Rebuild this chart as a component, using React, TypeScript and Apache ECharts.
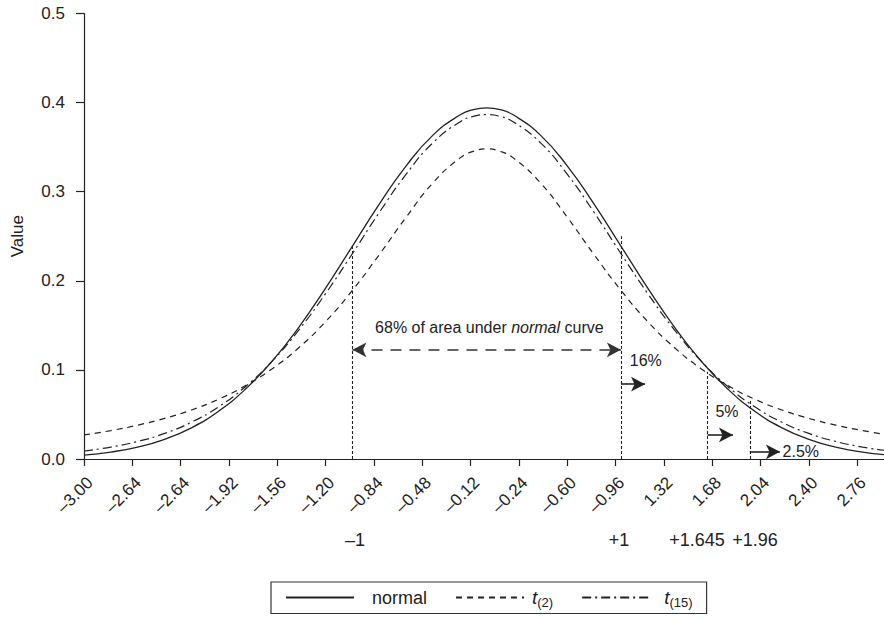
import { useEffect, useRef } from "react";
import * as echarts from "echarts";

// Sample points along z (step 0.2, extra points around the peak, last point at the axis edge)
const xValues = [
  -3.0, -2.8, -2.6, -2.4, -2.2, -2.0, -1.8, -1.6, -1.4, -1.2, -1.0, -0.8, -0.6, -0.4, -0.2, -0.1,
  0.0, 0.1, 0.2, 0.4, 0.6, 0.8, 1.0, 1.2, 1.4, 1.6, 1.8, 2.0, 2.2, 2.4, 2.6, 2.8, 2.96,
];

const normalDensity = [
  0.0043, 0.0078, 0.0134, 0.0221, 0.035, 0.0533, 0.078, 0.1095, 0.1478, 0.1917, 0.239, 0.286, 0.329, 0.3635, 0.386, 0.3921,
  0.394, 0.3921, 0.386, 0.3635, 0.329, 0.286, 0.239, 0.1917, 0.1478, 0.1095, 0.078, 0.0533, 0.035, 0.0221, 0.0134, 0.0078, 0.0049,
];

const t2Density = [
  0.027, 0.0319, 0.038, 0.0456, 0.055, 0.0669, 0.0821, 0.1011, 0.1249, 0.1542, 0.1894, 0.2294, 0.2714, 0.31, 0.3377, 0.3453,
  0.348, 0.3453, 0.3377, 0.31, 0.2714, 0.2294, 0.1894, 0.1542, 0.1249, 0.1011, 0.0821, 0.0669, 0.055, 0.0456, 0.038, 0.0319, 0.0278,
];

const t15Density = [
  0.009, 0.0134, 0.0197, 0.0287, 0.0413, 0.0583, 0.0809, 0.1095, 0.1447, 0.1857, 0.2306, 0.2767, 0.3196, 0.355, 0.3783, 0.3845,
  0.3865, 0.3845, 0.3783, 0.355, 0.3196, 0.2767, 0.2306, 0.1857, 0.1447, 0.1095, 0.0809, 0.0583, 0.0413, 0.0287, 0.0197, 0.0134, 0.0098,
];

// x-axis ticks and the labels printed under them
const tickValues = [
  -3.0, -2.64, -2.28, -1.92, -1.56, -1.2, -0.84, -0.48, -0.12, 0.24, 0.6, 0.96, 1.32, 1.68, 2.04, 2.4, 2.76,
];
const tickLabels = [
  "–3.00", "–2.64", "–2.64", "–1.92", "–1.56", "–1.20", "–0.84", "–0.48", "–0.12",
  "–0.24", "–0.60", "–0.96", "1.32", "1.68", "2.04", "2.40", "2.76",
];

// critical values and how high each guide line reaches
const cutoffs = [-1, 1, 1.645, 1.96];
const cutoffLabels = ["–1", "+1", "+1.645", "+1.96"];
const cutoffHeights = [0.2385, 0.25, 0.098, 0.066];

// tail annotations: arrow end x, arrow y, label x, label y
const tailLabels = ["16%", "5%", "2.5%"];
const tailArrowEnd = [1.18, 1.835, 2.185];
const tailArrowY = [0.084, 0.027, 0.008];
const tailLabelX = [1.185, 1.79, 2.34];
const tailLabelY = [0.11, 0.053, 0.008];

const bandArrowY = 0.1225;
const bandLabelPos = [0.02, 0.1475];

const seriesNames = ["normal", "t(2)", "t(15)"];

const FONT = "'Liberation Sans', Arial, Helvetica, sans-serif";
const INK = "#222";

export default function App() {
  const ref = useRef<HTMLDivElement>(null);

  useEffect(() => {
    if (!ref.current) return;
    const chart = echarts.init(ref.current, undefined, { renderer: "svg" });

    const pairs = (ys: number[]) => xValues.map((x, i) => [x, ys[i]]);

    const guideLines = cutoffs.map((c, i) => [
      { coord: [c, 0], symbol: "none" },
      { coord: [c, cutoffHeights[i]], symbol: "none" },
    ]);

    const tailArrows = tailLabels.map((_, i) => [
      {
        coord: [cutoffs[i + 1], tailArrowY[i]],
        symbol: "none",
        lineStyle: { type: "solid", width: 1.6, color: INK },
      },
      { coord: [tailArrowEnd[i], tailArrowY[i]], symbol: "arrow", symbolSize: [11, 14] },
    ]);

    const bandArrow = [
      {
        coord: [cutoffs[0], bandArrowY],
        symbol: "arrow",
        symbolSize: [11, 14],
        lineStyle: { type: [11, 8], width: 1.6, color: "#333" },
      },
      { coord: [cutoffs[1], bandArrowY], symbol: "arrow", symbolSize: [11, 14] },
    ];

    const textPoints = [
      {
        coord: bandLabelPos,
        label: { formatter: "68% of area under {i|normal} curve" },
      },
      ...tailLabels.map((t, i) => ({
        coord: [tailLabelX[i], tailLabelY[i]],
        label: { formatter: t },
      })),
    ];

    const legendFormatter = (name: string) =>
      name === "normal" ? "normal" : `{it|t}{sub|${name.slice(1)}}`;

    chart.setOption({
      animation: false,
      textStyle: { fontFamily: FONT, color: INK },
      grid: { left: 84, right: 0, top: 13.5, bottom: 159, containLabel: false },
      xAxis: {
        type: "value",
        min: -3,
        max: 2.96,
        splitLine: { show: false },
        axisLine: { onZero: false, lineStyle: { color: INK, width: 1.2 } },
        axisTick: { customValues: tickValues, length: 7, lineStyle: { color: INK, width: 1.2 } },
        axisLabel: {
          customValues: tickValues,
          rotate: 45,
          margin: 15,
          verticalAlign: "top",
          fontSize: 17,
          color: INK,
          fontFamily: FONT,
          formatter: (v: number) => {
            const i = tickValues.findIndex((t) => Math.abs(t - v) < 1e-6);
            return i >= 0 ? tickLabels[i] : "";
          },
        },
      },
      yAxis: {
        type: "value",
        min: 0,
        max: 0.5,
        interval: 0.1,
        name: "Value",
        nameLocation: "middle",
        nameGap: 58,
        nameTextStyle: { fontSize: 17, color: INK, fontFamily: FONT },
        splitLine: { show: false },
        axisLine: { show: true, onZero: false, lineStyle: { color: INK, width: 1.2 } },
        axisTick: { show: true, length: 8, lineStyle: { color: INK, width: 1.2 } },
        axisLabel: {
          fontSize: 17,
          margin: 19,
          color: INK,
          fontFamily: FONT,
          formatter: (v: number) => v.toFixed(1),
        },
      },
      legend: {
        data: [
          { name: seriesNames[0], textStyle: { padding: [0, 0, 0, 13] } },
          { name: seriesNames[1], textStyle: { padding: [0, 0, 0, 3] } },
          { name: seriesNames[2], textStyle: { padding: [0, 0, 0, 9] } },
        ],
        left: 271,
        top: 582,
        orient: "horizontal",
        itemWidth: 68,
        itemHeight: 14,
        itemGap: 28,
        padding: [6, 14, 5, 14],
        borderColor: "#333",
        borderWidth: 1.2,
        borderRadius: 0,
        itemStyle: { opacity: 0 },
        formatter: legendFormatter,
        textStyle: {
          fontSize: 18,
          color: INK,
          fontFamily: FONT,
          rich: {
            it: { fontSize: 19, fontStyle: "italic", fontFamily: FONT, color: INK, lineHeight: 22 },
            sub: { fontSize: 13, fontFamily: FONT, color: INK, verticalAlign: "bottom", lineHeight: 14 },
          },
        },
      },
      series: [
        {
          name: seriesNames[0],
          type: "line",
          data: pairs(normalDensity),
          smooth: true,
          symbol: "none",
          lineStyle: { color: INK, width: 1.3, type: "solid" },
          itemStyle: { color: INK },
          markLine: {
            silent: true,
            animation: false,
            label: { show: false },
            lineStyle: { color: INK, type: [3, 2], width: 1.1 },
            data: [...guideLines, bandArrow, ...tailArrows],
          },
          markPoint: {
            silent: true,
            symbol: "rect",
            symbolSize: 0,
            itemStyle: { color: "transparent" },
            label: {
              show: true,
              position: "inside",
              fontSize: 16,
              color: INK,
              fontFamily: FONT,
              rich: {
                i: { fontStyle: "italic", fontSize: 16, color: INK, fontFamily: FONT },
              },
            },
            data: textPoints,
          },
        },
        {
          name: seriesNames[1],
          type: "line",
          data: pairs(t2Density),
          smooth: true,
          symbol: "none",
          lineStyle: { color: INK, width: 1.2, type: [6, 5] },
          itemStyle: { color: INK },
        },
        {
          name: seriesNames[2],
          type: "line",
          data: pairs(t15Density),
          smooth: true,
          symbol: "none",
          lineStyle: { color: INK, width: 1.2, type: [9, 4, 2, 4] },
          itemStyle: { color: INK },
        },
      ],
      graphic: cutoffLabels.map((t, i) => ({
        type: "text",
        x: [355, 619, 697, 755][i],
        y: 540,
        style: {
          text: t,
          fontSize: 18,
          fontFamily: FONT,
          fill: INK,
          align: "center",
          verticalAlign: "middle",
        },
      })),
    });

    return () => chart.dispose();
  }, []);

  return (
    <div
      ref={ref}
      style={{ position: "fixed", left: 0, top: 0, width: 884, height: 618, background: "#fff" }}
    />
  );
}
